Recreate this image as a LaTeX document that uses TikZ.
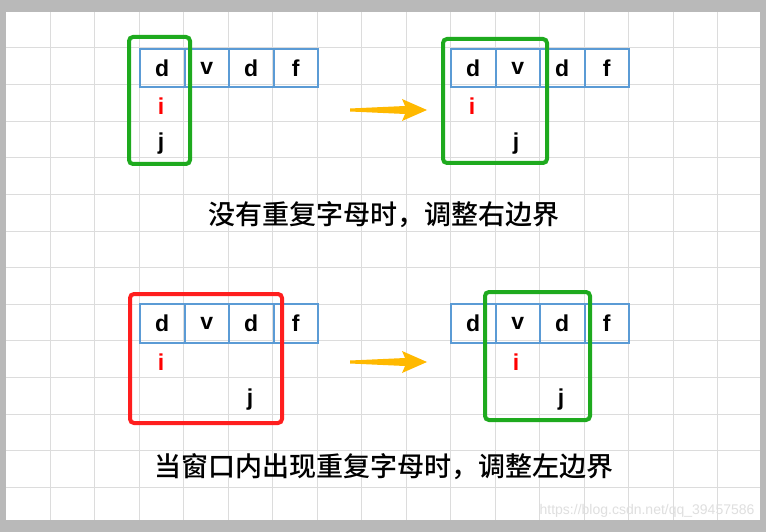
\documentclass[tikz,border=0pt]{standalone}
\usepackage{fontspec}
\setmainfont{Liberation Sans}
\newfontfamily\cjk{Noto Sans CJK SC Medium}
\begin{document}
\begin{tikzpicture}[x=1pt,y=-1pt,
  cellbox/.style={draw=cellblue, line width=2pt, minimum width=44.5pt, minimum height=38.5pt, inner sep=0pt, font=\fontsize{23}{24}\selectfont\bfseries, anchor=north west},
  letter/.style={font=\fontsize{23}{24}\selectfont\bfseries, inner sep=0pt},
  winbox/.style={line width=4pt, rounded corners=4pt},
  caption/.style={font=\cjk\fontsize{27}{29}\selectfont}]
\definecolor{cellblue}{RGB}{91,155,213}
\definecolor{wingreen}{RGB}{30,170,30}
\definecolor{winred}{RGB}{255,30,30}
\definecolor{arroworange}{RGB}{255,185,0}
\definecolor{gridgray}{RGB}{220,220,220}
\useasboundingbox (0,0) rectangle (766,532);
\fill[gray!55] (0,0) rectangle (766,532);
\fill[white] (6,12) rectangle (760,520);
\foreach \k in {0,...,15} \draw[gridgray, line width=1pt] ({50+44.5*\k},12) -- ({50+44.5*\k},520);
\foreach \k in {0,...,12} \draw[gridgray, line width=1pt] (6,{48+36.6*\k}) -- (760,{48+36.6*\k});
% top left
\foreach \c/\t [count=\n from 0] in {a/d,b/v,c/d,e/f}
  \node[cellbox] (tl\c) at ({139+44.5*\n},48) {\t};
\node[letter, text=red] (tli) at (161,106) {i};
\node[letter] (tlj) at (161,144) {j};
\draw[wingreen, winbox] (129,37) rectangle (190,164);
% top right
\foreach \c/\t [count=\n from 0] in {a/d,b/v,c/d,e/f}
  \node[cellbox] (tr\c) at ({450+44.5*\n},48) {\t};
\node[letter, text=red] (tri) at (472,106) {i};
\node[letter] (trj) at (516,144) {j};
\draw[wingreen, winbox] (443,39) rectangle (547,163);
% arrows
\foreach \yy in {110,362}
  \fill[arroworange] (350,{\yy-1.5}) -- (405,{\yy-4}) -- (402,{\yy-11}) -- (427,\yy) -- (402,{\yy+11}) -- (405,{\yy+4}) -- (350,{\yy+1.5}) -- cycle;
\node[caption] (cap1) at (384,215) {没有重复字母时，调整右边界};
% bottom left
\foreach \c/\t [count=\n from 0] in {a/d,b/v,c/d,e/f}
  \node[cellbox] (bl\c) at ({139+44.5*\n},303) {\t};
\node[letter, text=red] (bli) at (161,362) {i};
\node[letter] (blj) at (250,400) {j};
\draw[winred, winbox] (130,294) rectangle (282,423);
% bottom right
\foreach \c/\t [count=\n from 0] in {a/d,b/v,c/d,e/f}
  \node[cellbox] (br\c) at ({450+44.5*\n},303) {\t};
\node[letter, text=red] (bri) at (516,362) {i};
\node[letter] (brj) at (561,400) {j};
\draw[wingreen, winbox] (485,292) rectangle (590,420);
\node[caption] (cap2) at (384,467) {当窗口内出现重复字母时，调整左边界};
\node[font=\fontsize{14}{15}\selectfont, text=gray!25, anchor=east] (wm) at (758,511) {https://blog.csdn.net/qq\_39457586};
\end{tikzpicture}
\end{document}
